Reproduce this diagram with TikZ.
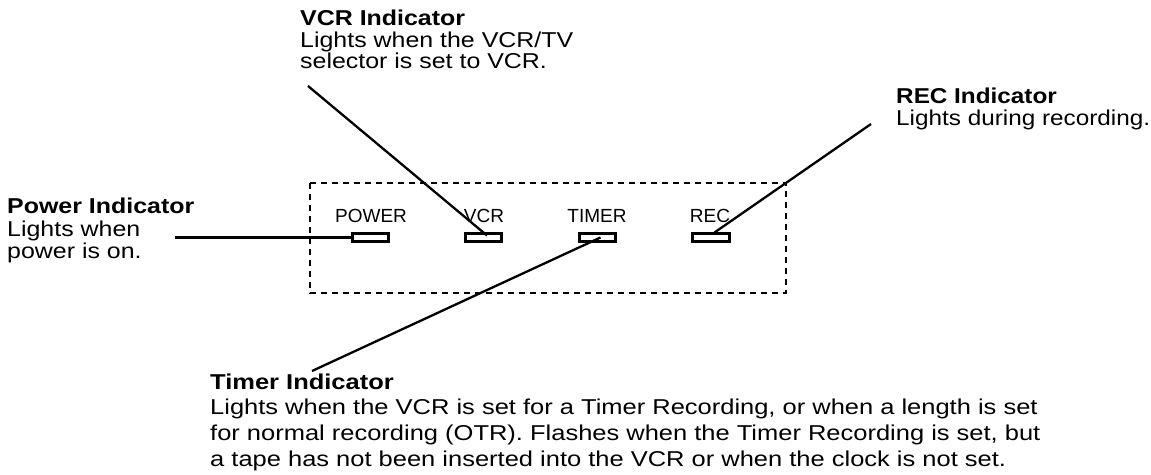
\documentclass[tikz,border=0pt]{standalone}
\usepackage{fontspec}
\setmainfont{Liberation Sans}[FakeStretch=1.16]
\newfontfamily\lblfont{Liberation Sans}
\newfontfamily\tmrfont{Liberation Sans}[FakeStretch=1.185]
\newfontfamily\recfont{Liberation Sans}[FakeStretch=1.13]
\begin{document}
\begin{tikzpicture}[x=1pt,y=-1pt,
  txt/.style={anchor=base west, inner sep=0pt, font=\fontsize{21.5}{24}\selectfont},
  ttl/.style={anchor=base west, inner sep=0pt, font=\fontsize{21.5}{24}\selectfont\bfseries},
  lbl/.style={anchor=base, inner sep=0pt, font=\lblfont\fontsize{19}{22}\selectfont},
  led/.style={draw, line width=2.8pt, minimum width=36.5pt, minimum height=8.5pt, inner sep=0pt},
  lead/.style={line width=2.3pt},
  frame/.style={line width=2.8pt, dash pattern=on 6pt off 5pt}]
\useasboundingbox (0,0) rectangle (1151,474);
% panel
\draw[frame] (310,183) rectangle (786,293);
\node[lbl] (lP) at (371,222) {POWER};
\node[lbl] (lV) at (484,222) {VCR};
\node[lbl] (lT) at (597,222) {TIMER};
\node[lbl] (lR) at (710,222) {REC};
\node[led] (ledP) at (370.5,237.5) {};
\node[led] (ledV) at (483.5,237.5) {};
\node[led] (ledT) at (597.5,237.5) {};
\node[led] (ledR) at (711,237.5) {};
% texts
\node[ttl] (vcrT) at (300,25) {VCR Indicator};
\node[txt] (vcr1) at (300,47) {Lights when the VCR/TV};
\node[txt] (vcr2) at (300,68) {selector is set to VCR.};
\node[ttl, font=\recfont\fontsize{21.5}{24}\selectfont\bfseries] (recT) at (896,103) {REC Indicator};
\node[txt, font=\recfont\fontsize{21.5}{24}\selectfont] (rec1) at (896,125) {Lights during recording.};
\node[ttl] (pwrT) at (7,213) {Power Indicator};
\node[txt] (pwr1) at (7,236) {Lights when};
\node[txt] (pwr2) at (7,258) {power is on.};
\node[ttl, font=\tmrfont\fontsize{21.5}{24}\selectfont\bfseries] (tmrT) at (210,389) {Timer Indicator};
\node[txt, font=\tmrfont\fontsize{21.5}{24}\selectfont] (tmr1) at (210,414) {Lights when the VCR is set for a Timer Recording, or when a length is set};
\node[txt, font=\tmrfont\fontsize{21.5}{24}\selectfont] (tmr2) at (210,440) {for normal recording (OTR). Flashes when the Timer Recording is set, but};
\node[txt, font=\tmrfont\fontsize{21.5}{24}\selectfont] (tmr3) at (210,466) {a tape has not been inserted into the VCR or when the clock is not set.};
% connectors
\coordinate (pwrEnd) at (175,237.5);
\coordinate (vcrEnd) at (308,86);
\coordinate (tmrEnd) at (312,371);
\coordinate (recEnd) at (871,124);
\draw[lead] (pwrEnd) -- (ledP.west);
\draw[lead] (vcrEnd) -- ([xshift=3.5pt,yshift=2pt]ledV.center);
\draw[lead] (tmrEnd) -- ([xshift=3pt]ledT.center);
\draw[lead] (recEnd) -- ([xshift=3.5pt,yshift=5pt]ledR.center);
\end{tikzpicture}
\end{document}
